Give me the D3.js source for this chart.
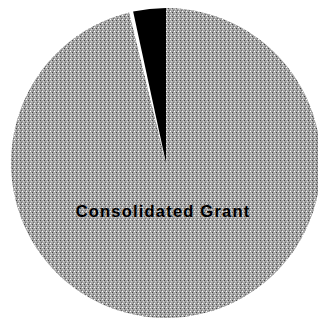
<!DOCTYPE html>
<html>
<head>
<meta charset="utf-8">
<script src="https://cdn.jsdelivr.net/npm/d3@7"></script>
<style>
html,body{margin:0;padding:0;background:#fff;overflow:hidden;}
svg{display:block;}
</style>
</head>
<body>
<svg id="chart" width="318" height="320"></svg>
<script>
const categories = ["Consolidated Grant", "Other A", "Other B"];
const values = [96.2, 0.4, 3.4];
const colors = ["#a4a4a4", "#ffffff", "#000000"];
const labels = ["Consolidated Grant", "", ""];

const W = 318, H = 320;
const cx = 166, cy = 163, r = 155;
const svg = d3.select("#chart");

const defs = svg.append("defs");
const pat = defs.append("pattern").attr("id","dither").attr("patternUnits","userSpaceOnUse")
  .attr("width",4).attr("height",4);
pat.append("rect").attr("width",4).attr("height",4).attr("fill",colors[0]);
pat.append("rect").attr("x",0).attr("y",0).attr("width",1).attr("height",1).attr("fill","#ffffff");
pat.append("rect").attr("x",2).attr("y",1).attr("width",1).attr("height",1).attr("fill","#444444");
pat.append("rect").attr("x",1).attr("y",2).attr("width",1).attr("height",1).attr("fill","#d8d8d8");
pat.append("rect").attr("x",3).attr("y",3).attr("width",1).attr("height",1).attr("fill","#6a6a6a");

const pie = d3.pie().sort(null).startAngle(0).endAngle(2*Math.PI);
const arcs = pie(values);
const arc = d3.arc().innerRadius(0).outerRadius(r);

const g = svg.append("g").attr("transform", `translate(${cx},${cy})`);
g.selectAll("path").data(arcs).join("path")
  .attr("d", arc)
  .attr("fill", (d,i) => i === 0 ? "url(#dither)" : colors[i]);

g.selectAll("text").data(arcs.filter((d,i)=>labels[i])).join("text")
  .attr("x", -3)
  .attr("y", 54)
  .attr("text-anchor","middle")
  .attr("font-family","Liberation Sans, Arial, sans-serif")
  .attr("font-weight","bold")
  .attr("font-size","16.5px")
  .attr("letter-spacing","1.2px")
  .attr("fill","#000")
  .text((d)=>labels[d.index]);
</script>
</body>
</html>
